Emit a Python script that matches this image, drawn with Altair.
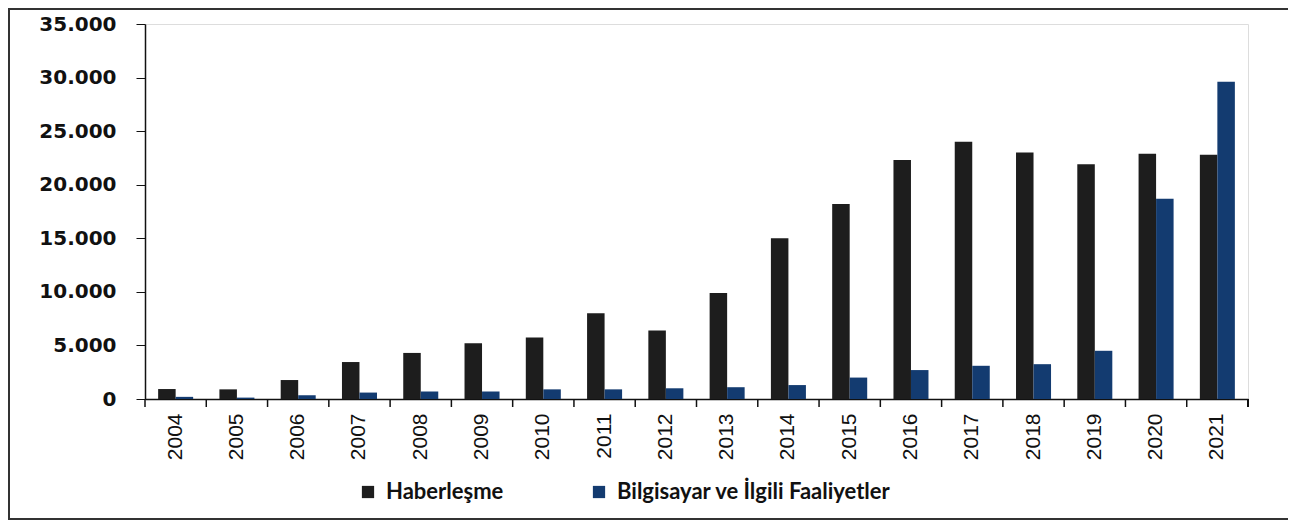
import altair as alt
import pandas as pd

years = ["2004", "2005", "2006", "2007", "2008", "2009", "2010", "2011", "2012",
         "2013", "2014", "2015", "2016", "2017", "2018", "2019", "2020", "2021"]
haberlesme = [930, 900, 1770, 3450, 4300, 5200, 5750, 8000, 6400,
              9900, 15000, 18200, 22300, 24000, 23000, 21900, 22900, 22800]
bilgisayar = [200, 130, 350, 600, 700, 700, 900, 900, 1000,
              1100, 1300, 2000, 2700, 3100, 3250, 4500, 18700, 29600]
series = ["Haberleşme", "Bilgisayar ve İlgili Faaliyetler"]
colors = ["#1d1d1d", "#133b70"]

rows = []
for i, y in enumerate(years):
    rows.append({"year": y, "series": series[0], "value": haberlesme[i]})
    rows.append({"year": y, "series": series[1], "value": bilgisayar[i]})
df = pd.DataFrame(rows)

W, H = 1103, 375

xscale = alt.Scale(paddingInner=0, paddingOuter=0)

bars = alt.Chart(df).mark_bar().encode(
    x=alt.X("year:N", sort=years, scale=xscale, title=None,
            axis=alt.Axis(labelAngle=270, labelFont="Liberation Sans Narrow, Liberation Sans",
                          labelFontSize=21, labelColor="#111", ticks=False,
                          labelPadding=14, domainColor="#111", domainWidth=1.5,
                          labelAlign="right", labelBaseline="middle")),
    xOffset=alt.XOffset("series:N", sort=series,
                        scale=alt.Scale(paddingInner=0, paddingOuter=0.75)),
    y=alt.Y("value:Q", scale=alt.Scale(domain=[0, 35000]), title=None,
            axis=alt.Axis(values=[0, 5000, 10000, 15000, 20000, 25000, 30000, 35000],
                          labelExpr="replace(format(datum.value, ','), ',', '.')",
                          grid=False, tickSize=9, tickColor="#111", labelPadding=20,
                          labelFont="DejaVu Sans", labelFontWeight="bold",
                          labelFontSize=20, labelColor="#111",
                          domainColor="#111", domainWidth=1.5)),
    color=alt.Color("series:N", sort=series,
                    scale=alt.Scale(domain=series, range=colors),
                    legend=alt.Legend(title=None, orient="none", direction="horizontal",
                                      legendX=212, legendY=457,
                                      symbolType="square", symbolSize=150,
                                      symbolStrokeWidth=0,
                                      labelFont="Lato", labelFontWeight="bold",
                                      labelFontSize=22, labelColor="#111",
                                      labelLimit=600,
                                      columnPadding=84, labelOffset=7)),
)

ticks_df = pd.DataFrame({"year": years})
xticks = alt.Chart(ticks_df).mark_rule(color="#111", strokeWidth=1.5).encode(
    x=alt.X("year:N", sort=years, bandPosition=0, scale=xscale),
    y=alt.value(H),
    y2=alt.value(H + 8),
)
end_tick = alt.Chart(ticks_df).mark_rule(color="#111", strokeWidth=1.5).encode(
    x=alt.value(W), y=alt.value(H), y2=alt.value(H + 8)
)

frame = alt.Chart(ticks_df).mark_rect(fill=None, stroke="#333", strokeWidth=2).encode(
    x=alt.value(-136), x2=alt.value(1144), y=alt.value(-15), y2=alt.value(495)
)

chart = alt.layer(frame, bars, xticks, end_tick).properties(
    width=W, height=H,
    autosize=alt.AutoSizeParams(type="none"),
    padding={"left": 137, "top": 16, "right": 40, "bottom": 125},
).configure_view(stroke=None).configure(background="white")

chart.save("out.html", embed_options={"renderer": "svg", "actions": False})
